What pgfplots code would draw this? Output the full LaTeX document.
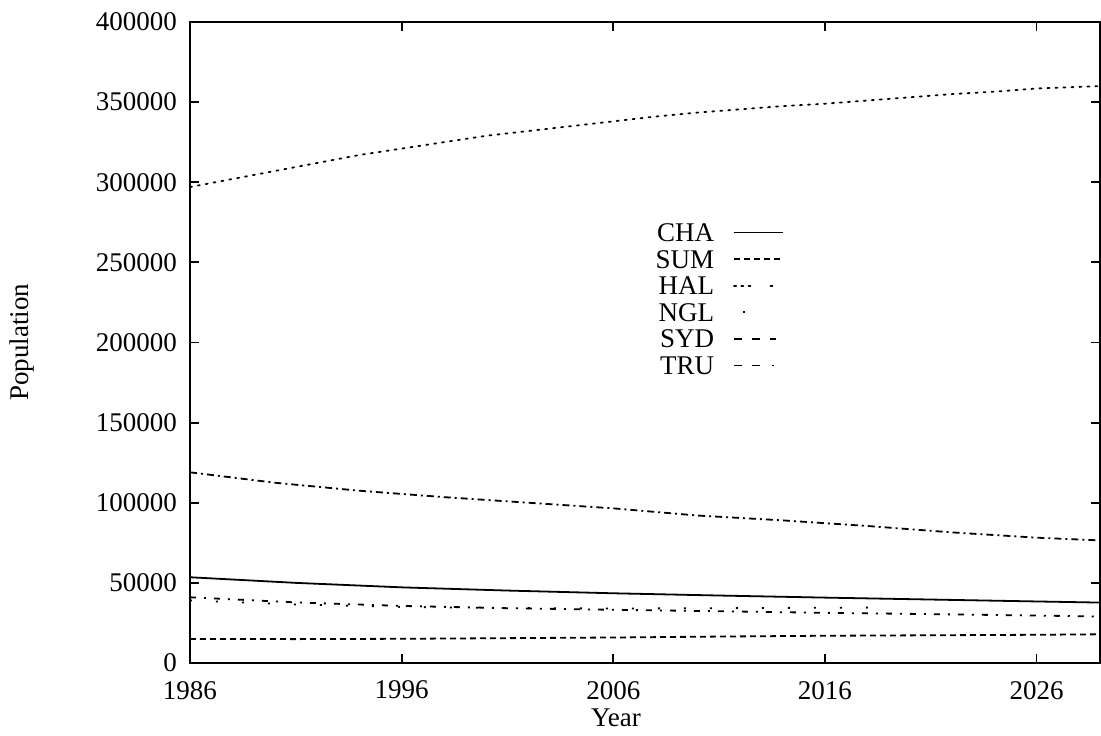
\documentclass[border=0pt]{standalone}
\usepackage{pgfplots}
\pgfplotsset{compat=1.18}
\usepackage{fontspec}
\setmainfont{Liberation Serif}

% Population by area, 1986-2029
\pgfplotstableread{
year  pop
1986  53500
1991  50000
1996  47200
2001  45200
2006  43500
2011  42100
2016  40800
2021  39600
2026  38400
2029  37700
}\tabCHA
\pgfplotstableread{
year  pop
1986  15000
1991  14900
1996  15100
2001  15500
2006  15900
2011  16500
2016  17000
2021  17300
2026  17600
2029  17900
}\tabSUM
\pgfplotstableread{
year  pop
1986  297000
1988  302000
1990  307000
1992  312000
1994  317000
1996  321000
1998  325000
2000  329000
2002  332000
2004  335000
2006  338000
2008  341000
2010  343500
2012  345500
2014  347500
2016  349000
2018  351000
2020  353000
2022  355000
2024  356500
2026  358500
2029  360000
}\tabHAL
\pgfplotstableread{
year  pop
1986  39000
1991  36500
1996  35000
2001  34300
2006  34000
2011  34200
2016  34500
2019  34600
}\tabNGL
\pgfplotstableread{
year  pop
1986  119000
1990  112500
1994  107500
1998  103500
2002  100000
2006  96500
2010  92000
2014  89000
2018  85500
2022  81500
2026  78200
2029  76500
}\tabSYD
\pgfplotstableread{
year  pop
1986  41000
1991  37800
1996  35600
2001  34200
2006  33200
2011  32300
2016  31300
2021  30500
2026  29600
2029  29000
}\tabTRU

\begin{document}
\begin{tikzpicture}
\begin{axis}[
  name=ax,
  scale only axis,
  width=455pt, height=320.5pt,
  xmin=1986, xmax=2029, ymin=0, ymax=400000,
  xtick={1986,1996,2006,2016,2026},
  xticklabels={1986,1996,2006,2016,2026},
  ytick={0,50000,100000,150000,200000,250000,300000,350000,400000},
  yticklabels={0,50000,100000,150000,200000,250000,300000,350000,400000},
  scaled y ticks=false,
  scaled x ticks=false,
  tick align=inside,
  major tick length=4.5pt,
  tick style={line width=0.9pt, black},
  axis line style={line width=1.3pt},
  tick label style={font=\fontsize{13.5}{15}\selectfont},
  xticklabel style={yshift=-5.5pt},
  yticklabel style={xshift=-3pt},
  xlabel={Year},
  ylabel={Population},
  label style={font=\fontsize{13.5}{15}\selectfont},
  xlabel style={at={(axis description cs:0.468,0)}, anchor=center, yshift=-27.5pt},
  ylabel style={at={(axis description cs:-0.1846,0.5)}, anchor=center},
  every axis plot/.append style={line width=0.9pt, black},
  legend plot pos=right,
  legend cell align=right,
  legend style={draw=none, fill=none, at={(axis cs:2014.37,278300)}, anchor=north east,
    font=\fontsize{13.5}{15}\selectfont,
    nodes={inner sep=1pt, text height=9pt, text depth=0pt},
    row sep=2.3pt},
  legend image code/.code={
    \path[draw=none] (0pt,0pt) -- (33.5pt,0pt);
    \draw[#1] (9pt,0pt) -- (33.5pt,0pt);
  },
]
\addplot[solid] table[x=year, y=pop] {\tabCHA};
\addlegendentry{CHA}
\addplot[dash pattern=on 3pt off 2pt] table[x=year, y=pop] {\tabSUM};
\addlegendentry{SUM}
\addplot[dash pattern=on 1pt off 3pt, line cap=round,
  legend image code/.code={
    \path[draw=none] (0pt,0pt) -- (33.5pt,0pt);
    \draw[line width=0.9pt, dash pattern=on 1pt off 2.6pt on 1pt off 2.6pt on 1pt off 10pt on 1pt off 20pt] (9pt,0pt) -- (33.5pt,0pt);
  }] table[x=year, y=pop] {\tabHAL};
\addlegendentry{HAL}
\addplot[dash pattern=on 1pt off 12pt,
  legend image code/.code={
    \path[draw=none] (0pt,0pt) -- (33.5pt,0pt);
    \draw[line width=0.9pt, dash pattern=on 0pt off 4.5pt on 1pt off 40pt] (9pt,0pt) -- (33.5pt,0pt);
  }] table[x=year, y=pop] {\tabNGL};
\addlegendentry{NGL}
\addplot[dash pattern=on 3.5pt off 2pt on 1pt off 2pt,
  legend image code/.code={
    \path[draw=none] (0pt,0pt) -- (33.5pt,0pt);
    \draw[line width=0.9pt, dash pattern=on 4pt off 5pt on 4pt off 5pt on 3pt off 20pt] (9pt,0pt) -- (33.5pt,0pt);
  }] table[x=year, y=pop] {\tabSYD};
\addlegendentry{SYD}
\addplot[dash pattern=on 3pt off 4pt on 1pt off 4pt,
  legend image code/.code={
    \path[draw=none] (0pt,0pt) -- (33.5pt,0pt);
    \draw[line width=0.9pt, dash pattern=on 4pt off 5pt on 4pt off 6pt on 1pt off 20pt] (9pt,0pt) -- (33.5pt,0pt);
  }] table[x=year, y=pop] {\tabTRU};
\addlegendentry{TRU}
\end{axis}
\pgfresetboundingbox
\path ([xshift=-95pt,yshift=-36.5pt]ax.south west) rectangle ([xshift=0.5pt,yshift=11pt]ax.north east);
\end{tikzpicture}
\end{document}
